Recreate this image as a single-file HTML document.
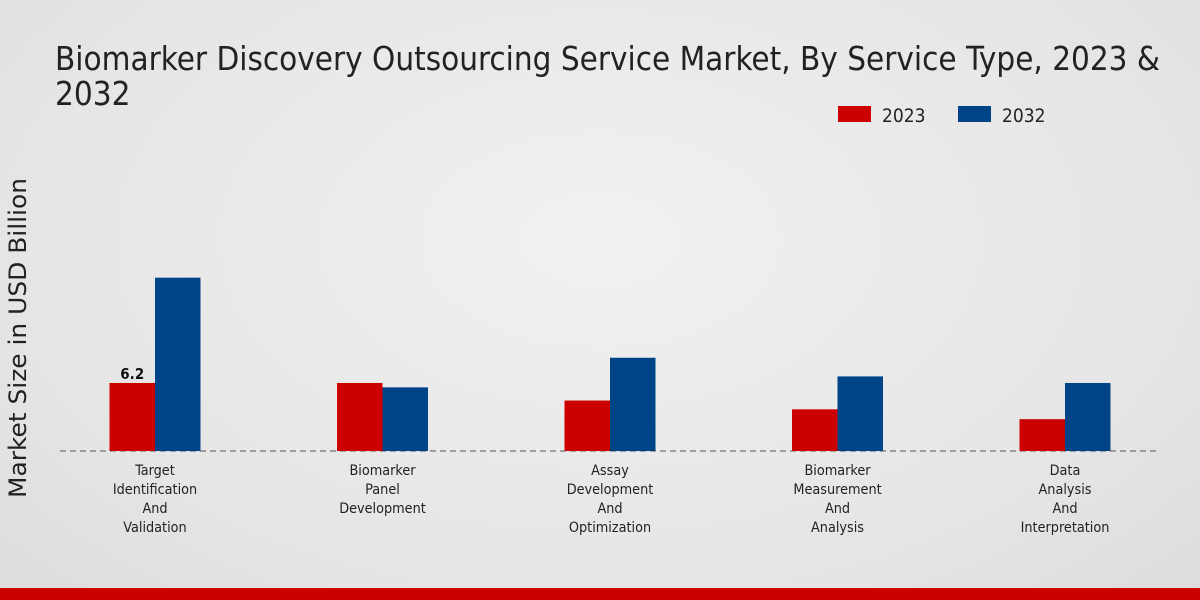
<!DOCTYPE html>
<html><head><meta charset="utf-8"><style>
html,body{margin:0;padding:0;}
body{width:1200px;height:600px;overflow:hidden;font-family:"DejaVu Sans Condensed","DejaVu Sans","Liberation Sans",sans-serif;}
#bg{position:absolute;left:0;top:0;width:1200px;height:600px;background:radial-gradient(ellipse at 50% 40%,#f1f1f1 0%,#e5e5e5 70%,#dcdcdc 100%);}
</style></head><body>
<div id="bg"></div>
<svg id="chart" width="1200" height="600" style="position:absolute;left:0;top:0">
<text x="55" y="70" font-size="33" fill="#222" textLength="1105" lengthAdjust="spacingAndGlyphs">Biomarker Discovery Outsourcing Service Market, By Service Type, 2023 &amp;</text>
<text x="55" y="105" font-size="33" fill="#222">2032</text>
<rect x="838" y="106" width="33" height="16" fill="#cc0000"/>
<text x="882" y="122" font-size="19" fill="#222">2023</text>
<rect x="958" y="106" width="33" height="16" fill="#004488"/>
<text x="1002" y="122" font-size="19" fill="#222">2032</text>
<text transform="translate(26,338) rotate(-90)" text-anchor="middle" font-size="24" fill="#222" textLength="320" lengthAdjust="spacingAndGlyphs" style="font-family:'DejaVu Sans',sans-serif">Market Size in USD Billion</text>
<line x1="60" y1="451" x2="1160" y2="451" stroke="#555" stroke-dasharray="6,4" stroke-width="1"/>
<g id="bars"></g>
</svg>
<script>
const categories=[["Target","Identification","And","Validation"],["Biomarker","Panel","Development"],["Assay","Development","And","Optimization"],["Biomarker","Measurement","And","Analysis"],["Data","Analysis","And","Interpretation"]];
const values2023=[6.2,6.2,4.6,3.8,2.9];
const values2032=[15.8,5.8,8.5,6.8,6.2];
const labels2023=["6.2",null,null,null,null];
const NS="http://www.w3.org/2000/svg";
const g=document.getElementById('bars');
const base=451,scale=10.97,x0=155,step=227.5,bw=45.5;
function y(v){return base-v*scale;}
function xc(i){return x0+i*step;}
function mk(t,a){const e=document.createElementNS(NS,t);for(const k in a)e.setAttribute(k,a[k]);g.appendChild(e);return e;}
categories.forEach((c,i)=>{
 let r=mk('rect',{x:xc(i)-bw,y:y(values2023[i]),width:bw,height:base-y(values2023[i]),fill:'#cc0000'});
 
 
 let r2=mk('rect',{x:xc(i),y:y(values2032[i]),width:bw,height:base-y(values2032[i]),fill:'#004488'});
 
 
 if(labels2023[i]){let t=mk('text',{x:xc(i)-bw/2,y:y(values2023[i])-4,'text-anchor':'middle','font-size':15,'font-weight':'bold',fill:'#111'});t.textContent=labels2023[i];
 
 }
 c.forEach((line,j)=>{let t=mk('text',{x:xc(i),y:475+j*19,'text-anchor':'middle','font-size':14.3,fill:'#222'});t.textContent=line;
 
 });
});
</script>
<div style="position:absolute;left:0;top:588px;width:1200px;height:12px;background:#cc0000"></div>
</body></html>
